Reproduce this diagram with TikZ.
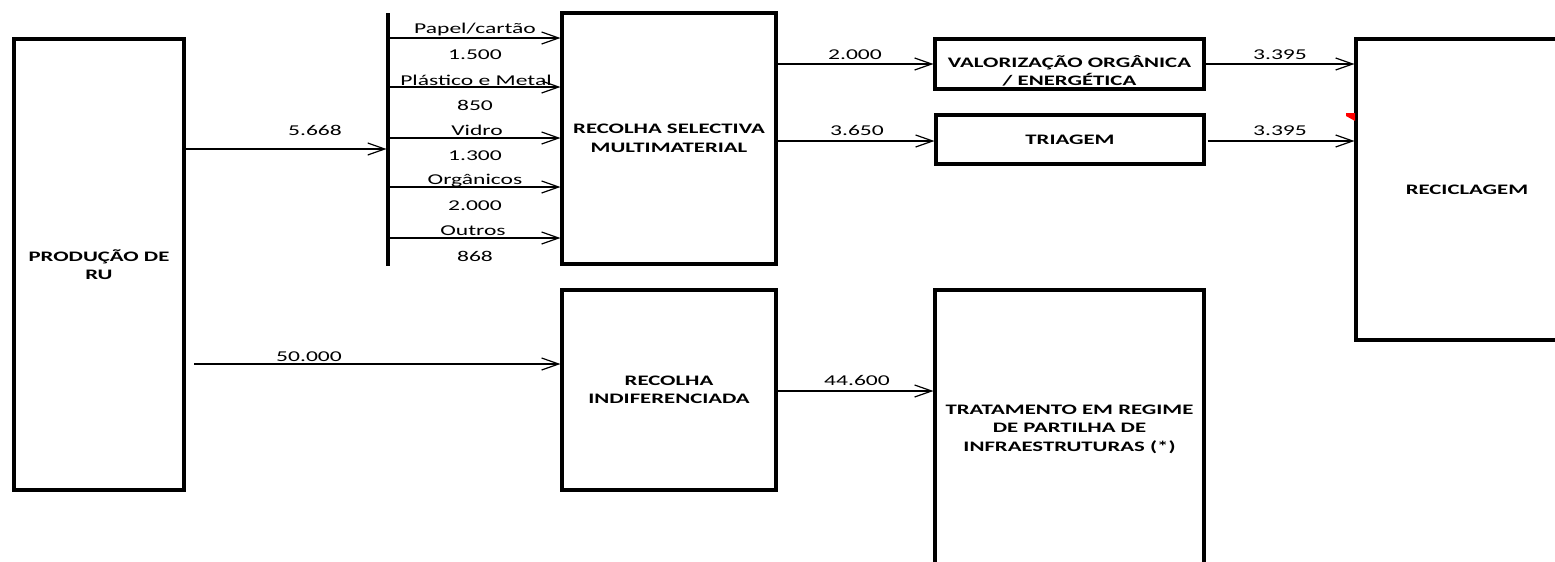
\documentclass[tikz,border=0pt]{standalone}
\usepackage{fontspec}
\setmainfont{Carlito}[FakeStretch=1.57]
\usetikzlibrary{arrows.meta}
\tikzset{
  box/.style={draw, line width=3.1pt, inner sep=0pt, align=center,
    font=\fontsize{14.5}{18.5}\selectfont\bfseries},
  arr/.style={line width=1.2pt, -{Straight Barb[length=17pt,width=12pt,line width=1.2pt]}},
  lbl/.style={font=\fontsize{15}{18}\selectfont, anchor=base, inner sep=0pt},
  barline/.style={line width=3.2pt},
}
\begin{document}
\begin{tikzpicture}[x=1pt,y=-1pt]
\useasboundingbox (0,0) rectangle (1555,562);

% boxes
\node[box, minimum width=170pt, minimum height=451pt] (prod) at (99,264.5) {PRODUÇÃO DE\\RU};
\node[box, minimum width=214pt, minimum height=251pt] (rs) at (669,138.5) {RECOLHA SELECTIVA\\MULTIMATERIAL};
\node[box, minimum width=269pt, minimum height=50pt] (vo) at (1069.5,64) {};
\node[font=\fontsize{14.5}{18.5}\selectfont\bfseries, align=center, inner sep=0pt] (votext) at (1069.5,71) {VALORIZAÇÃO ORGÂNICA\\/ ENERGÉTICA};
\node[box, minimum width=268pt, minimum height=49pt] (tri) at (1070,139.5) {TRIAGEM};
\node[box, minimum width=222pt, minimum height=301pt] (rec) at (1467,189.5) {RECICLAGEM};
\node[box, minimum width=214pt, minimum height=200pt] (ri) at (669,390) {RECOLHA\\INDIFERENCIADA};
\node[box, minimum width=269pt, minimum height=278pt] (trat) at (1069.5,429) {TRATAMENTO EM REGIME\\DE PARTILHA DE\\INFRAESTRUTURAS (*)};

% distribution bar
\coordinate (bartop) at (388,13);
\coordinate (barbot) at (388,266);
\draw[barline] (bartop) -- (barbot);
\coordinate (b0) at (386.5,149);
\coordinate (b1) at (388,38);
\coordinate (b2) at (388,87);
\coordinate (b3) at (388,138);
\coordinate (b4) at (388,187);
\coordinate (b5) at (388,238);

% main arrows
\draw[arr] (prod.east |- b0) -- (b0);
\node[lbl] (l0) at (315,135) {5.668};

\draw[arr] (b1) -- (rs.west |- b1);
\draw[arr] (b2) -- (rs.west |- b2);
\draw[arr] (b3) -- (rs.west |- b3);
\draw[arr] (b4) -- (rs.west |- b4);
\draw[arr] (b5) -- (rs.west |- b5);
\node[lbl] (l1a) at (475,33) {Papel/cartão};
\node[lbl] (l1b) at (475,59) {1.500};
\node[lbl] (l2a) at (476,85) {Plástico e Metal};
\node[lbl] (l2b) at (475,110) {850};
\node[lbl] (l3a) at (477,135) {Vidro};
\node[lbl] (l3b) at (475,160) {1.300};
\node[lbl] (l4a) at (475,184) {Orgânicos};
\node[lbl] (l4b) at (475,210) {2.000};
\node[lbl] (l5a) at (473,235) {Outros};
\node[lbl] (l5b) at (475,261) {868};

\draw[arr] (rs.east |- vo.west) -- (vo.west);
\node[lbl] (l6) at (855,59) {2.000};
\coordinate (c7) at (0,141);
\draw[arr] (rs.east |- c7) -- (tri.west |- c7);
\node[lbl] (l7) at (857,135) {3.650};

\draw[arr] (vo.east) -- (rec.west |- vo.east);
\node[lbl] (l8) at (1280,59) {3.395};
\draw[arr] ([xshift=2pt]tri.east |- c7) -- (rec.west |- c7);
\node[lbl] (l9) at (1280,135) {3.395};

\coordinate (s50) at (194,364);
\draw[arr] (s50) -- (ri.west |- s50);
\node[lbl] (l10) at (309,361) {50.000};

\coordinate (c44) at (0,391);
\draw[arr] (ri.east |- c44) -- (trat.west |- c44);
\node[lbl] (l11) at (857,385) {44.600};

% small red mark
\fill[red] (1346,113) -- (1355,113) -- (1355,121) -- (1346,116) -- cycle;
\end{tikzpicture}
\end{document}
